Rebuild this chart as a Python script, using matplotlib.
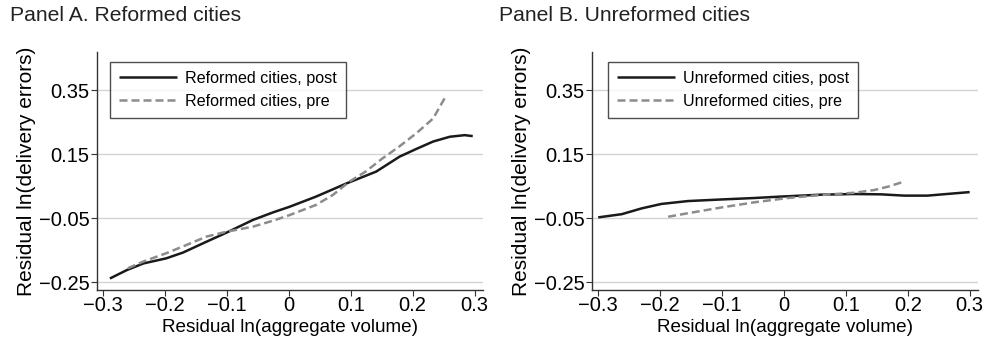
import matplotlib
matplotlib.use("Agg")
import matplotlib.pyplot as plt
from matplotlib.ticker import FuncFormatter

plt.rcParams["font.family"] = ["Liberation Sans", "DejaVu Sans"]

# Panel A: reformed cities
a_post_x = [-0.289, -0.262, -0.235, -0.198, -0.171, -0.133, -0.101, -0.058, -0.025, 0.001,
            0.044, 0.093, 0.141, 0.179, 0.206, 0.233, 0.260, 0.284, 0.297]
a_post_y = [-0.239, -0.213, -0.192, -0.176, -0.158, -0.124, -0.096, -0.056, -0.032, -0.015,
            0.017, 0.058, 0.095, 0.142, 0.166, 0.189, 0.204, 0.209, 0.206]
a_pre_x = [-0.260, -0.235, -0.198, -0.165, -0.133, -0.101, -0.058, -0.025, 0.001, 0.044,
           0.071, 0.098, 0.124, 0.151, 0.178, 0.206, 0.233, 0.253]
a_pre_y = [-0.207, -0.186, -0.160, -0.134, -0.108, -0.093, -0.077, -0.058, -0.041, -0.009,
           0.022, 0.064, 0.095, 0.136, 0.173, 0.215, 0.261, 0.329]

# Panel B: unreformed cities
b_post_x = [-0.300, -0.262, -0.230, -0.198, -0.155, -0.101, -0.048, -0.005, 0.060, 0.114,
            0.157, 0.194, 0.232, 0.275, 0.300]
b_post_y = [-0.048, -0.038, -0.020, -0.006, 0.003, 0.008, 0.0125, 0.017, 0.023, 0.025,
            0.024, 0.020, 0.020, 0.027, 0.031]
b_pre_x = [-0.187, -0.155, -0.101, -0.048, 0.006, 0.060, 0.114, 0.146, 0.168, 0.192]
b_pre_y = [-0.046, -0.035, -0.017, -0.001, 0.0125, 0.022, 0.029, 0.0375, 0.048, 0.0625]

xticks = [-0.3, -0.2, -0.1, 0, 0.1, 0.2, 0.3]
yticks = [-0.25, -0.05, 0.15, 0.35]

panels = [
    ("Panel A. Reformed cities", a_post_x, a_post_y, a_pre_x, a_pre_y,
     "Reformed cities, post", "Reformed cities, pre"),
    ("Panel B. Unreformed cities", b_post_x, b_post_y, b_pre_x, b_pre_y,
     "Unreformed cities, post", "Unreformed cities, pre"),
]

fig = plt.figure(figsize=(9.89, 3.43), dpi=100)
lefts = [0.098, 0.5986]
title_x = [0.010, 0.505]


def fmt(v, pos):
    if abs(v) < 1e-9:
        return "0"
    s = f"{v:.2f}".rstrip("0") if abs(v * 10 - round(v * 10)) > 1e-6 else f"{v:.1f}"
    return s.replace("-", "\u2212")


for i, (title, px, py, qx, qy, lp, lq) in enumerate(panels):
    ax = fig.add_axes([lefts[i], 0.1545, 0.390, 0.694])
    for y in yticks:
        ax.axhline(y, color="#d4d4d4", lw=1.0, zorder=0)
    ax.plot(px, py, color="#1a1a1a", lw=1.8, label=lp, solid_capstyle="butt")
    ax.plot(qx, qy, color="#8c8c8c", lw=1.8, ls=(0, (3.2, 1.6)), label=lq)
    ax.set_xlim(-0.31, 0.313)
    ax.set_ylim(-0.275, 0.469)
    ax.set_xticks(xticks)
    ax.set_yticks(yticks)
    ax.xaxis.set_major_formatter(FuncFormatter(fmt))
    ax.yaxis.set_major_formatter(FuncFormatter(fmt))
    ax.tick_params(labelsize=14.5, length=4, width=0.8, color="#333333", pad=1.5)
    ax.tick_params(axis="x", pad=0.5)
    for s in ["top", "right"]:
        ax.spines[s].set_visible(False)
    for s in ["left", "bottom"]:
        ax.spines[s].set_color("#333333")
        ax.spines[s].set_linewidth(1.0)
    ax.set_xlabel("Residual ln(aggregate volume)", fontsize=13.6, labelpad=3)
    ax.set_ylabel("Residual ln(delivery errors)", fontsize=15, labelpad=2)
    leg = ax.legend(loc="upper left", bbox_to_anchor=(0.034 if i == 0 else 0.041, 0.958),
                    fontsize=11.6, frameon=True, fancybox=False, handlelength=3.6,
                    borderpad=0.55, labelspacing=0.5, handletextpad=0.5, borderaxespad=0)
    leg.get_frame().set_edgecolor("#222222")
    leg.get_frame().set_linewidth(1.0)
    fig.text(title_x[i], 0.955, title, fontsize=15.2, va="center", ha="left", color="#222222")

fig.savefig("out.png", dpi=100)
